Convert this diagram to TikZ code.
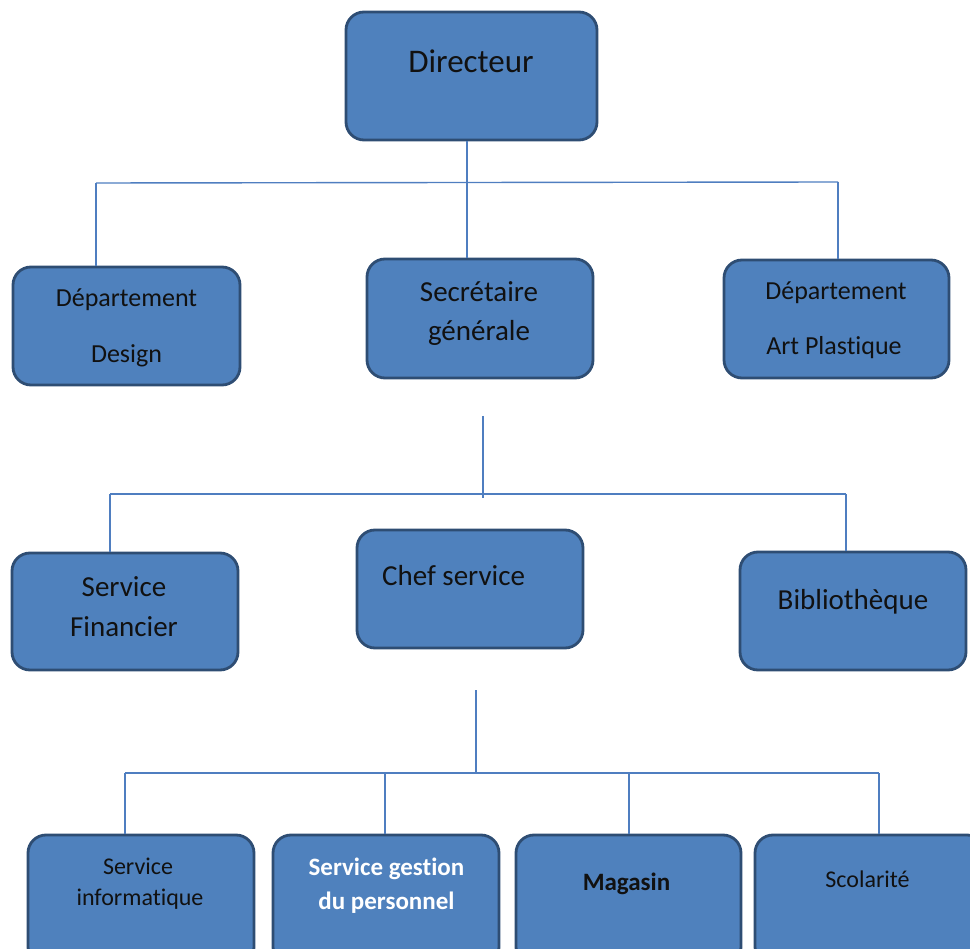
\documentclass[tikz,border=0pt]{standalone}
\usepackage{fontspec}
\setmainfont{Carlito}[Ligatures=NoCommon]
\definecolor{boxfill}{HTML}{4F81BD}
\definecolor{boxedge}{HTML}{2E4D73}
\definecolor{linkblue}{HTML}{4F7EC0}
\definecolor{ink}{HTML}{111111}
\begin{document}
\begin{tikzpicture}[x=1pt,y=-1pt,
  box/.style={draw=boxedge, line width=2.8pt, fill=boxfill, rounded corners=18pt,
    minimum width=226pt, minimum height=118pt, inner sep=0pt},
  link/.style={draw=linkblue, line width=1.4pt},
  lbl/.style={anchor=base, text=ink, inner sep=0pt},
  big/.style={font=\fontsize{33}{38}\selectfont},
  mid/.style={font=\fontsize{29}{34}\selectfont},
  small/.style={font=\fontsize{26}{30}\selectfont},
  tiny/.style={font=\fontsize{24}{28}\selectfont},
  boldtxt/.style={font=\fontsize{25}{28}\selectfont\bfseries}]
\useasboundingbox (0,0) rectangle (970,949);
\clip (0,0) rectangle (970,949);

% boxes
\node[box, minimum width=251pt, minimum height=128pt] (dir) at (471.5,76) {};
\node[box, minimum width=227pt] (dd) at (126.5,326) {};
\node[box, minimum height=119pt] (sec) at (480,318.5) {};
\node[box, minimum width=225pt] (dap) at (836.5,319) {};
\node[box, minimum height=117pt] (sf) at (125,611.5) {};
\node[box] (chef) at (470,589) {};
\node[box] (bib) at (853,611) {};
\node[box, minimum height=130pt] (si) at (141,900) {};
\node[box, minimum height=130pt] (sg) at (386,900) {};
\node[box, minimum width=225pt, minimum height=130pt] (mag) at (628.5,900) {};
\node[box, minimum width=230pt, minimum height=130pt] (sco) at (870,900) {};

% labels
\node[lbl, big] (tdir) at (471,73) {Directeur};
\node[lbl, small] (tdd1) at (126.5,307) {Département};
\node[lbl, small] (tdd2) at (126.5,363) {Design};
\node[lbl, mid] (tsec1) at (479,302) {Secrétaire};
\node[lbl, mid] (tsec2) at (479,341) {générale};
\node[lbl, small] (tdap1) at (836,300) {Département};
\node[lbl, small] (tdap2) at (834,355) {Art Plastique};
\node[lbl, mid] (tsf1) at (124,596) {Service};
\node[lbl, mid] (tsf2) at (124,636) {Financier};
\node[lbl, mid, anchor=base west] (tchef) at (382,585) {Chef service};
\node[lbl, mid] (tbib) at (853,609) {Bibliothèque};
\node[lbl, tiny] (tsi1) at (138,874) {Service};
\node[lbl, tiny] (tsi2) at (140,905) {informatique};
\node[lbl, boldtxt, text=white] (tsg1) at (386.5,875) {Service gestion};
\node[lbl, boldtxt, text=white] (tsg2) at (386.5,909) {du personnel};
\node[lbl, boldtxt] (tmag) at (626.5,890) {Magasin};
\node[lbl, tiny] (tsco) at (867.5,887) {Scolarité};

% junction points of the first bus
\coordinate (b1) at (467,183);
\coordinate (b1l) at (96,183);
\coordinate (b1r) at (838,182);
\draw[link] (b1 |- dir.south) -- (b1 |- sec.north);
\draw[link] (b1l) -- (b1r);
\draw[link] (b1l) -- (b1l |- dd.north);
\draw[link] (b1r) -- (b1r |- dap.north);

% second bus, below the secretary
\coordinate (s2) at (483,416);
\coordinate (b2) at (483,494);
\coordinate (b2l) at (110,494);
\coordinate (b2r) at (846,494);
\draw[link] (s2) -- ([yshift=-4pt]b2);
\draw[link] (b2l) -- (b2r);
\draw[link] (b2l) -- (b2l |- sf.north);
\draw[link] (b2r) -- (b2r |- bib.north);

% third bus, below the head of service
\coordinate (s3) at (476,690);
\coordinate (b3) at (476,773);
\coordinate (b3a) at (125,773);
\coordinate (b3b) at (385,773);
\coordinate (b3c) at (629,773);
\coordinate (b3d) at (879,773);
\draw[link] (s3) -- (b3);
\draw[link] (b3a) -- (b3d);
\draw[link] (b3a) -- (b3a |- si.north);
\draw[link] (b3b) -- (b3b |- sg.north);
\draw[link] (b3c) -- (b3c |- mag.north);
\draw[link] (b3d) -- (b3d |- sco.north);
\end{tikzpicture}
\end{document}
